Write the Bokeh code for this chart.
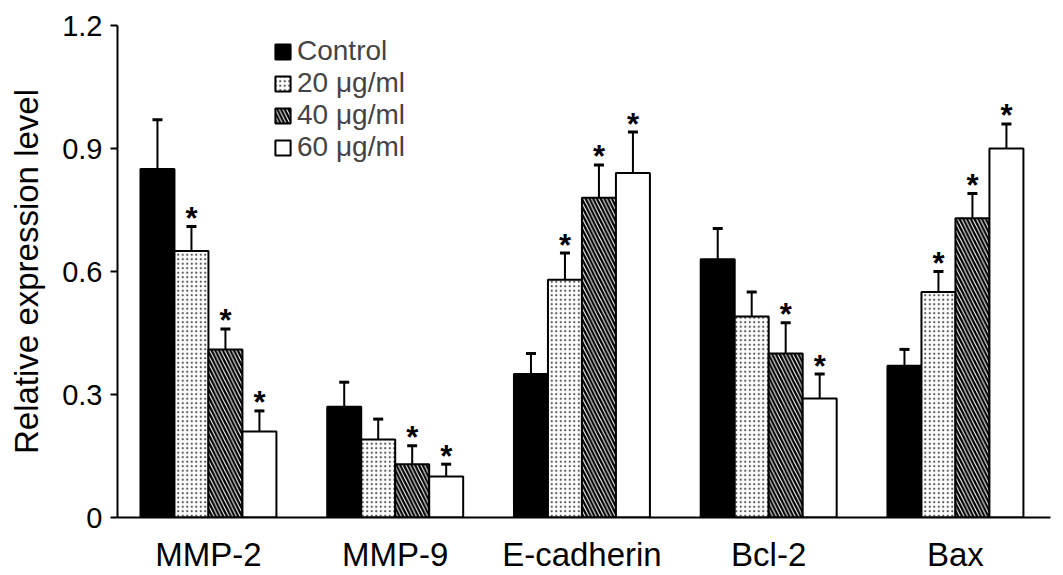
from bokeh.plotting import figure
from bokeh.models import (ColumnDataSource, Range1d, FixedTicker, CustomJSTickFormatter,
                          Whisker, TeeHead, Legend, LegendItem)
from bokeh.core.properties import value
from bokeh.embed import file_html
from bokeh.resources import INLINE

categories = ["MMP-2", "MMP-9", "E-cadherin", "Bcl-2", "Bax"]
series_names = ["Control", "20 μg/ml", "40 μg/ml", "60 μg/ml"]

control = [0.85, 0.27, 0.35, 0.63, 0.37]
dose20 = [0.65, 0.19, 0.58, 0.49, 0.55]
dose40 = [0.41, 0.13, 0.78, 0.40, 0.73]
dose60 = [0.21, 0.10, 0.84, 0.29, 0.90]

control_err = [0.12, 0.06, 0.05, 0.075, 0.04]
dose20_err = [0.06, 0.05, 0.065, 0.06, 0.05]
dose40_err = [0.05, 0.045, 0.08, 0.075, 0.06]
dose60_err = [0.05, 0.03, 0.10, 0.06, 0.06]

control_sig = [False, False, False, False, False]
dose20_sig = [True, False, True, False, True]
dose40_sig = [True, True, True, True, True]
dose60_sig = [True, True, True, True, True]

y_ticks = [0, 0.3, 0.6, 0.9, 1.2]

FONT = "Liberation Sans"
BAR_W = 0.182
offsets = [-1.5 * BAR_W, -0.5 * BAR_W, 0.5 * BAR_W, 1.5 * BAR_W]

styles = [
    dict(fill_color="black", hatch_pattern=None),
    dict(fill_color="white", hatch_pattern="dot", hatch_color="#555555", hatch_scale=4.5, hatch_weight=1.6),
    dict(fill_color="white", hatch_pattern="left_diagonal_line", hatch_color="black", hatch_scale=7.5, hatch_weight=2.3),
    dict(fill_color="white", hatch_pattern=None),
]

p = figure(width=1063, height=575, output_backend="svg", toolbar_location=None,
           x_range=Range1d(-0.487, 4.509), y_range=Range1d(0, 1.2),
           min_border_left=117, min_border_right=13, min_border_top=25, min_border_bottom=57)
p.outline_line_color = None
p.grid.visible = False
p.background_fill_color = "white"

values = [control, dose20, dose40, dose60]
errs = [control_err, dose20_err, dose40_err, dose60_err]
sigs = [control_sig, dose20_sig, dose40_sig, dose60_sig]

items = []
for k in range(4):
    xs = [i + offsets[k] for i in range(len(categories))]
    tops = values[k]
    uppers = [t + e for t, e in zip(tops, errs[k])]
    stars = ["*" if s else "" for s in sigs[k]]
    src = ColumnDataSource(dict(x=xs, top=tops, upper=uppers, star=stars))
    st = dict(styles[k])
    hp = st.pop("hatch_pattern")
    kw = dict(x="x", top="top", bottom=0, width=BAR_W, source=src,
              line_color="black", line_width=2, **st)
    if hp:
        kw["hatch_pattern"] = hp
    w = Whisker(source=src, base="x", lower="top", upper="upper", dimension="height",
                line_color="black", line_width=2,
                upper_head=TeeHead(size=10, line_width=3, line_color="black"), lower_head=None,
                level="underlay")
    p.add_layout(w)
    r = p.vbar(**kw)
    p.text(x="x", y="upper", text="star", source=src, text_align="center",
           text_baseline="alphabetic", y_offset=-8, text_font=value(FONT),
           text_font_size="31px", text_font_style="bold", text_color="black")
    items.append(LegendItem(label=series_names[k], renderers=[r]))

legend = Legend(items=items, location=(156, 354), padding=0, margin=0, spacing=0,
                glyph_width=19, glyph_height=19, label_height=32, label_standoff=5,
                label_text_font=FONT, label_text_font_size="28px",
                border_line_color=None, background_fill_alpha=0)
p.add_layout(legend)

p.xaxis.ticker = FixedTicker(ticks=list(range(len(categories))))
p.xaxis.major_label_overrides = {i: c for i, c in enumerate(categories)}
p.xaxis.major_tick_line_color = None
p.xaxis.minor_tick_line_color = None
p.xaxis.axis_line_width = 2
p.xaxis.axis_line_color = "black"
p.xaxis.major_label_text_font = FONT
p.xaxis.major_label_text_font_size = "33px"
p.xaxis.major_label_text_color = "black"
p.xaxis.major_label_standoff = 12

p.yaxis.ticker = FixedTicker(ticks=y_ticks)
p.yaxis.formatter = CustomJSTickFormatter(code="return tick == 0 ? '0' : tick.toFixed(1);")
p.yaxis.minor_tick_line_color = None
p.yaxis.major_tick_in = 0
p.yaxis.major_tick_out = 7
p.yaxis.major_tick_line_width = 2
p.yaxis.axis_line_width = 2
p.yaxis.axis_line_color = "black"
p.yaxis.major_label_text_font = FONT
p.yaxis.major_label_text_font_size = "29px"
p.yaxis.major_label_text_color = "black"
p.yaxis.major_label_standoff = 8
p.yaxis.axis_label = "Relative expression level"
p.yaxis.axis_label_text_font = FONT
p.yaxis.axis_label_text_font_size = "33px"
p.yaxis.axis_label_text_font_style = "normal"
p.yaxis.axis_label_text_color = "black"
p.yaxis.axis_label_standoff = 14

open("out.html", "w").write(file_html(p, INLINE))
